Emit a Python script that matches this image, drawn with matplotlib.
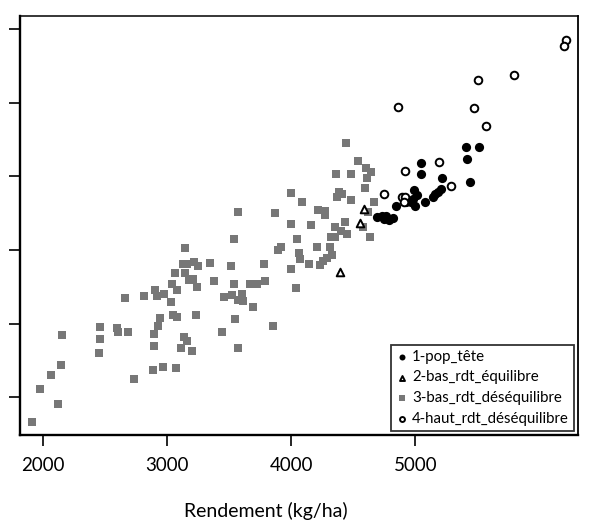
import matplotlib
matplotlib.use("Agg")
import matplotlib.pyplot as plt

plt.rcParams['font.family'] = ['Lato', 'DejaVu Sans']

# ---- data (y axis has no printed values; unit-free scale) ----
g3_x = [1914, 1976, 2064, 2127, 2150, 2158, 2460, 2459, 2456, 2596, 2606, 2687, 2665, 2733,
        2816, 2891, 2966, 3073, 2894, 2900, 2930, 2946, 2904, 2918, 2977, 3035, 3039, 3079,
        3069, 3051, 3085, 3111, 3135, 3160, 3200, 3232, 3148, 3132, 3159, 3144, 3178, 3213,
        3222, 3250, 3240, 3347, 3382, 3446, 3460, 3518, 3543, 3538, 3528, 3551, 3575, 3573,
        3607, 3610, 3665, 3696, 3728, 3782, 3792, 3854, 3896, 3919, 4001, 4045, 4060, 4068,
        4041, 3575, 3871, 3999, 4002, 4445, 4541, 4603, 4641, 4614, 4359, 4485, 4595, 4088,
        4383, 4410, 4367, 4485, 4668, 4214, 4273, 4276, 4617, 4158, 4437, 4354, 4404, 4453,
        4577, 4319, 4354, 4633, 4206, 4313, 4142, 4233, 4255, 4292, 4327]
g3_y = [0.661, 1.109, 1.307, 0.913, 1.432, 1.843, 1.961, 1.785, 1.595, 1.938, 1.893, 1.887, 2.352, 1.242,
        2.375, 1.375, 1.414, 1.394, 1.701, 1.864, 1.965, 2.073, 2.453, 2.375, 2.403, 2.297, 2.532, 2.457,
        2.690, 2.115, 2.093, 1.670, 1.815, 1.765, 1.622, 2.124, 3.027, 2.806, 2.806, 2.681, 2.593, 2.606,
        2.833, 2.783, 2.498, 2.819, 2.579, 1.887, 2.366, 2.787, 3.149, 2.542, 2.386, 2.067, 1.670, 2.321,
        2.400, 2.301, 2.534, 2.226, 2.542, 2.803, 2.579, 1.964, 2.996, 3.045, 2.742, 3.149, 2.959, 2.871,
        2.484, 3.520, 3.498, 3.349, 3.770, 4.449, 4.208, 4.109, 4.063, 3.982, 4.032, 4.036, 3.838, 3.652,
        3.787, 3.756, 3.724, 3.675, 3.652, 3.547, 3.529, 3.471, 3.516, 3.335, 3.380, 3.312, 3.262, 3.217,
        3.308, 3.181, 3.181, 3.181, 3.045, 3.037, 2.810, 2.800, 2.851, 2.891, 2.928]

g2_x = [4590, 4555, 4396]
g2_y = [3.561, 3.371, 2.705]

g1_x = [5408, 5513, 5420, 5443, 5046, 5046, 5214, 5206, 5179, 5161, 5143, 5078, 4992,
        5011, 4982, 4998, 4962, 4929, 4842, 4694, 4732, 4764, 4792, 4818, 4748]
g1_y = [4.398, 4.398, 4.242, 3.927, 4.177, 4.036, 3.973, 3.828, 3.794, 3.760, 3.720, 3.656, 3.815,
        3.753, 3.692, 3.591, 3.652, 3.658, 3.601, 3.444, 3.455, 3.455, 3.407, 3.441, 3.421]

g4_x = [4861, 5503, 5797, 5473, 5570, 5187, 4919, 5288, 4746, 4893, 4920, 4909, 6214, 6200]
g4_y = [4.937, 5.308, 5.372, 4.924, 4.690, 4.192, 4.066, 3.869, 3.756, 3.724, 3.724, 3.652, 5.851, 5.770]

labels = ['1-pop_tête', '2-bas_rdt_équilibre', '3-bas_rdt_déséquilibre', '4-haut_rdt_déséquilibre']
x_ticks = [2000, 3000, 4000, 5000]
y_ticks = [1, 2, 3, 4, 5, 6]
x_label = 'Rendement (kg/ha)'

# ---- figure ----
W, H = 589, 527
fig = plt.figure(figsize=(W / 100, H / 100), dpi=100)
ax = fig.add_axes([19.5 / W, 1 - 435 / H, (578 - 19.5) / W, (435 - 15.7) / H])

ax.scatter(g3_x, g3_y, marker='s', s=36, color='#777777', linewidths=0, label=labels[2], zorder=2)
ax.scatter(g2_x, g2_y, marker='^', s=30, facecolors='white', edgecolors='black', linewidths=1.4,
           label=labels[1], zorder=3)
ax.scatter(g1_x, g1_y, marker='o', s=44, color='black', linewidths=0, label=labels[0], zorder=4)
ax.scatter(g4_x, g4_y, marker='o', s=30, facecolors='white', edgecolors='black', linewidths=1.4,
           label=labels[3], zorder=5)

ax.set_xlim(1813, 6310)
ax.set_ylim(0.488, 6.181)
ax.set_xticks(x_ticks)
ax.set_yticks(y_ticks)
ax.set_yticklabels([])
ax.tick_params(axis='both', direction='out', length=8, width=1.2, color='black',
               labelsize=13.5, pad=8)

ax.set_xlabel(x_label, fontsize=14)
ax.xaxis.set_label_coords((266 - 19.5) / (578 - 19.5), -0.16)

for side, lw in [('left', 1.7), ('bottom', 1.7), ('top', 1.1), ('right', 1.3)]:
    ax.spines[side].set_linewidth(lw)
    ax.spines[side].set_color('black')

handles, labs = ax.get_legend_handles_labels()
order = [labs.index(l) for l in labels]
leg = ax.legend([handles[i] for i in order], [labs[i] for i in order], loc='lower right',
                fontsize=10.8, frameon=True, fancybox=False, edgecolor='black',
                borderaxespad=0.3, handletextpad=0.2, labelspacing=0.45, borderpad=0.3,
                markerscale=0.65, handlelength=0.9)
leg.get_frame().set_linewidth(1.3)

fig.savefig('out.png', dpi=100)
